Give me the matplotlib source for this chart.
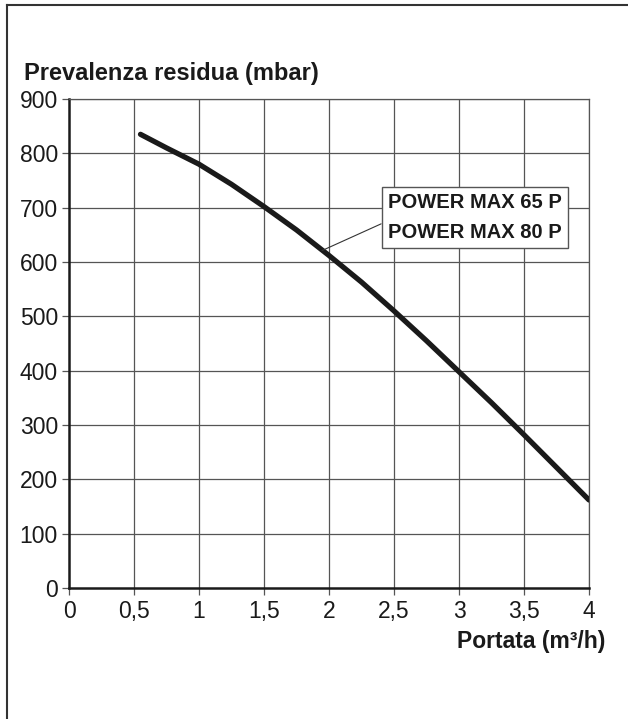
import numpy as np
import matplotlib.pyplot as plt
from matplotlib.lines import Line2D

# curve (Portata m3/h -> Prevalenza mbar)
portata = [0.55, 0.75, 1.0, 1.25, 1.5, 1.75, 2.0, 2.25, 2.5, 2.75, 3.0, 3.25, 3.5, 3.75, 4.0]
prevalenza = [835, 810, 780, 743, 702, 659, 612, 563, 510, 455, 398, 341, 282, 222, 162]

x_ticks = [0, 0.5, 1, 1.5, 2, 2.5, 3, 3.5, 4]
x_labels = ["0", "0,5", "1", "1,5", "2", "2,5", "3", "3,5", "4"]
y_ticks = [0, 100, 200, 300, 400, 500, 600, 700, 800, 900]

label_text = "POWER MAX 65 P\nPOWER MAX 80 P"
title_text = "Prevalenza residua (mbar)"
xlabel_text = "Portata (m³/h)"

sans = ['Liberation Sans', 'DejaVu Sans']

W, H = 628, 719
fig = plt.figure(figsize=(W / 100, H / 100), dpi=100)
ax = fig.add_axes([69 / W, 1 - 588 / H, (589 - 69) / W, (588 - 99) / H])

# grid
for xv in x_ticks[1:]:
    ax.axvline(xv, color='#555555', lw=0.9, zorder=1)
for yv in y_ticks[1:]:
    ax.axhline(yv, color='#555555', lw=0.9, zorder=1)

ax.plot(portata, prevalenza, color='#1a1a1a', lw=3.8, solid_capstyle='round', zorder=3)

ax.set_xlim(0, 4)
ax.set_ylim(0, 900)
ax.set_xticks(x_ticks)
ax.set_xticklabels(x_labels, family=sans, fontsize=16.5, va='baseline')
ax.set_yticks(y_ticks)
ax.set_yticklabels([str(v) for v in y_ticks], family=sans, fontsize=16.5)
ax.tick_params(length=5, width=0.9, color='#555555', labelcolor='#1a1a1a')
ax.tick_params(axis='x', pad=16.5)
ax.tick_params(axis='y', pad=3)

for s in ['left', 'bottom']:
    ax.spines[s].set_linewidth(1.8)
    ax.spines[s].set_color('#1a1a1a')
for s in ['top', 'right']:
    ax.spines[s].set_linewidth(0.9)
    ax.spines[s].set_color('#555555')

# model label with leader line
ax.annotate(label_text, xy=(1.946, 621), xytext=(3.12, 682),
            ha='center', va='center', family=sans, fontweight='bold',
            fontsize=14.5, color='#1a1a1a', linespacing=1.75, zorder=5,
            bbox=dict(boxstyle='square,pad=0.3', fc='white', ec='#555555', lw=1.0),
            arrowprops=dict(arrowstyle='-', color='#333333', lw=0.8,
                            shrinkA=0, shrinkB=0, relpos=(0, 0.43)))

fig.text(24 / W, 1 - 80 / H, title_text, family=sans, fontweight='bold',
         fontsize=17, color='#1a1a1a', ha='left', va='baseline')
fig.text(605 / W, 1 - 648 / H, xlabel_text, family=sans, fontweight='bold',
         fontsize=16.5, color='#1a1a1a', ha='right', va='baseline')

# outer frame (left and top edges)
fig.add_artist(Line2D([7 / W, 7 / W], [0, 1 - 5 / H], color='#333333', lw=1.5))
fig.add_artist(Line2D([7 / W, 1], [1 - 5 / H, 1 - 5 / H], color='#333333', lw=1.5))

fig.savefig('out.png', dpi=100)
